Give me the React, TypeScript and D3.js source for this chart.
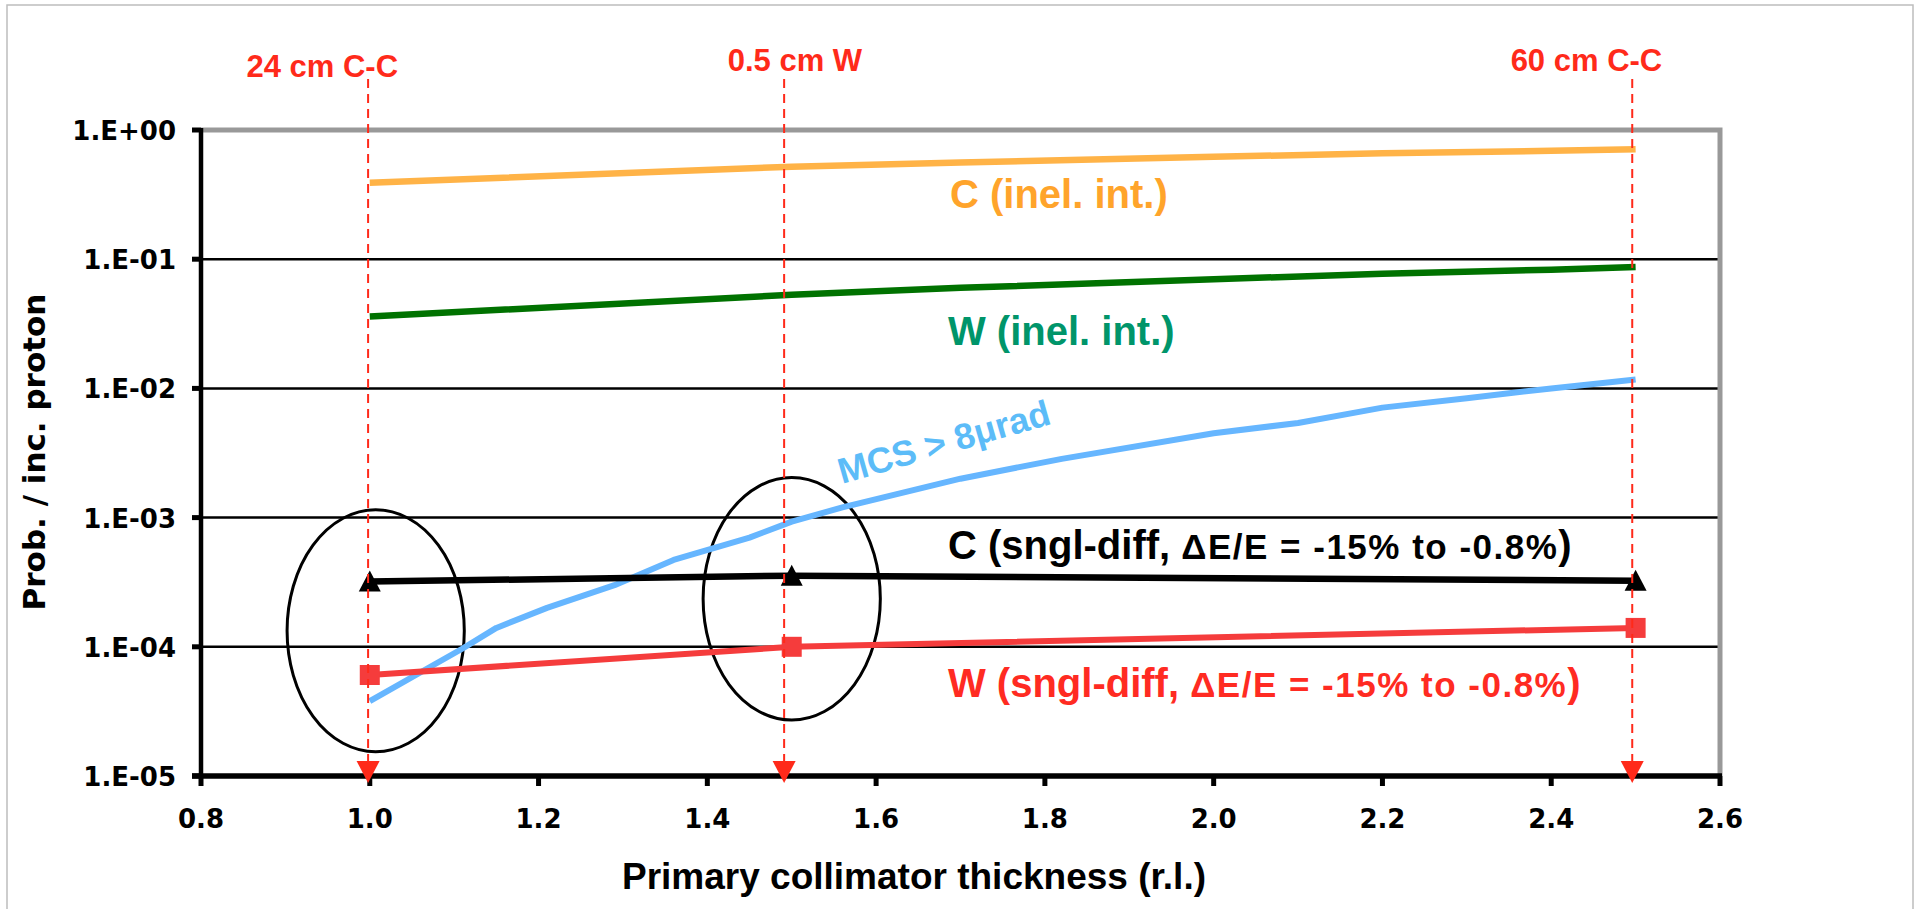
import React from 'react';
import * as d3 from 'd3';

// axis ticks
const xTicks = [0.8, 1.0, 1.2, 1.4, 1.6, 1.8, 2.0, 2.2, 2.4, 2.6];
const xTickLabels = ['0.8', '1.0', '1.2', '1.4', '1.6', '1.8', '2.0', '2.2', '2.4', '2.6'];
const yTicks = [1, 1e-1, 1e-2, 1e-3, 1e-4, 1e-5];
const yTickLabels = ['1.E+00', '1.E-01', '1.E-02', '1.E-03', '1.E-04', '1.E-05'];

// inelastic interaction probability (no markers)
const thicknessInel = [1.0, 1.5, 1.7, 2.0, 2.2, 2.4, 2.5];
const cInel = [0.39, 0.52, 0.56, 0.62, 0.66, 0.69, 0.71];
const wInel = [0.036, 0.053, 0.06, 0.07, 0.077, 0.083, 0.087];

// multiple coulomb scattering > 8 urad
const thicknessMcs = [1.0, 1.11, 1.15, 1.21, 1.29, 1.36, 1.45, 1.5, 1.56, 1.7, 1.82, 2.0, 2.1, 2.2, 2.3, 2.4, 2.5];
const mcs = [3.8e-5, 9.7e-5, 1.4e-4, 2.0e-4, 3.0e-4, 4.7e-4, 7.0e-4, 9.3e-4, 1.2e-3, 2.0e-3, 2.85e-3, 4.5e-3, 5.4e-3, 7.1e-3, 8.4e-3, 1.0e-2, 1.17e-2];

// single diffractive (with markers)
const thicknessSd = [1.0, 1.5, 2.5];
const cSd = [3.2e-4, 3.55e-4, 3.25e-4];
const wSd = [6.05e-5, 1.0e-4, 1.4e-4];

// collimator options marked with dashed arrows
const collimatorNames = ['24 cm C-C', '0.5 cm W', '60 cm C-C'];
const collimatorX = [0.998, 1.491, 2.496];

// circled regions: centre x, half width (r.l.), top and bottom (prob.)
const ringCx = [1.007, 1.5];
const ringRx = [0.105, 0.105];
const ringTop = [1.15e-3, 2.04e-3];
const ringBottom = [1.54e-5, 2.71e-5];

const W = 1915;
const H = 909;
const M = { left: 201, right: 1720, top: 130, bottom: 776 };

const arial = '"Liberation Sans", Arial, sans-serif';
const dejavu = '"DejaVu Sans", Verdana, sans-serif';
const annotRed = '#ff2a1a';

export default function App() {
  const x = d3.scaleLinear().domain([0.8, 2.6]).range([M.left, M.right]);
  const y = d3.scaleLog().domain([1e-5, 1]).range([M.bottom, M.top]);

  const line = d3.line<[number, number]>()
    .x(d => x(d[0]))
    .y(d => y(d[1]));
  const zip = (xs: number[], ys: number[]) => xs.map((v, i) => [v, ys[i]] as [number, number]);

  const series = [
    { pts: zip(thicknessInel, cInel), color: '#ffb347', w: 6.5 },
    { pts: zip(thicknessInel, wInel), color: '#007200', w: 6.5 },
    { pts: zip(thicknessMcs, mcs), color: '#66b6ff', w: 6 },
    { pts: zip(thicknessSd, wSd), color: '#f53c3c', w: 6 },
    { pts: zip(thicknessSd, cSd), color: '#000', w: 6.5 },
  ];

  const labelDx = [30, 78, 30];
  const labelY = [77, 71, 71];

  return (
    <svg width={W} height={H} style={{ position: 'fixed', left: 0, top: 0, background: '#fff' }}>
      <rect x={7} y={5} width={1906} height={940} fill="#fff" stroke="#bdbdbd" strokeWidth={1.5} />

      {/* grid lines */}
      {yTicks.slice(1, -1).map(t => (
        <line key={t} x1={M.left} x2={M.right} y1={y(t)} y2={y(t)} stroke="#000" strokeWidth={2.5} />
      ))}
      {/* top / right frame */}
      <path d={`M${M.left},${M.top}H${M.right}V${M.bottom}`} fill="none" stroke="#999" strokeWidth={5} />

      {/* axes */}
      <line x1={M.left} x2={M.left} y1={M.top - 2} y2={M.bottom} stroke="#000" strokeWidth={4.5} />
      <line x1={M.left - 9} x2={M.right + 2} y1={M.bottom} y2={M.bottom} stroke="#000" strokeWidth={5.5} />
      {yTicks.map((t, i) => (
        <g key={t}>
          <line x1={M.left - 9} x2={M.left} y1={y(t)} y2={y(t)} stroke="#000" strokeWidth={5} />
          <text x={176} y={y(t) + 10} textAnchor="end" fontFamily={dejavu} fontWeight="bold" fontSize={26}>
            {yTickLabels[i]}
          </text>
        </g>
      ))}
      {xTicks.map((t, i) => (
        <g key={t}>
          <line x1={x(t)} x2={x(t)} y1={M.bottom} y2={M.bottom + 10} stroke="#000" strokeWidth={5} />
          <text x={x(t)} y={828} textAnchor="middle" fontFamily={dejavu} fontWeight="bold" fontSize={26}>
            {xTickLabels[i]}
          </text>
        </g>
      ))}

      <text transform="translate(45,452) rotate(-90)" textAnchor="middle" fontFamily={dejavu} fontWeight="bold" fontSize={31}>
        Prob. / inc. proton
      </text>
      <text x={914} y={889} textAnchor="middle" fontFamily={arial} fontWeight="bold" fontSize={37}>
        Primary collimator thickness (r.l.)
      </text>

      {/* ellipses */}
      {ringCx.map((c, i) => (
        <ellipse key={i}
          cx={x(c)} cy={(y(ringTop[i]) + y(ringBottom[i])) / 2}
          rx={x(c + ringRx[i]) - x(c)} ry={(y(ringBottom[i]) - y(ringTop[i])) / 2}
          fill="none" stroke="#000" strokeWidth={3} />
      ))}

      {/* series */}
      {series.map((s, i) => (
        <path key={i} d={line(s.pts) || ''} fill="none" stroke={s.color} strokeWidth={s.w} strokeLinejoin="round" />
      ))}
      {thicknessSd.map((t, i) => (
        <rect key={'sq' + i} x={x(t) - 10} y={y(wSd[i]) - 10} width={20} height={20} fill="#f53c3c" />
      ))}
      {thicknessSd.map((t, i) => (
        <path key={'tr' + i} transform={`translate(${x(t)},${y(cSd[i])})`} d="M0,-11L11,10L-11,10Z" fill="#000" />
      ))}

      {/* series labels */}
      <text x={950} y={208} fontFamily={arial} fontWeight="bold" fontSize={40} fill="#ffa42b">C (inel. int.)</text>
      <text x={948} y={345} fontFamily={arial} fontWeight="bold" fontSize={40} fill="#00956a">W (inel. int.)</text>
      <text x={948} y={559} fontFamily={arial} fontWeight="bold" fontSize={40} fill="#000">
        C (sngl-diff, <tspan fontSize={35} letterSpacing={1.5}>ΔE/E = -15% to -0.8%</tspan>)
      </text>
      <text x={948} y={697} fontFamily={arial} fontWeight="bold" fontSize={40} fill="#ff2b22">
        W (sngl-diff, <tspan fontSize={35} letterSpacing={1.5}>ΔE/E = -15% to -0.8%</tspan>)
      </text>
      <text transform="translate(842,484) rotate(-16)" fontFamily={arial} fontWeight="bold" fontSize={36} fill="#5cbcf8">
        MCS &gt; 8μrad
      </text>

      {/* collimator markers */}
      {collimatorX.map((c, i) => (
        <g key={c}>
          <line x1={x(c)} x2={x(c)} y1={79} y2={762} stroke={annotRed} strokeWidth={2} strokeDasharray="9,6" />
          <path transform={`translate(${x(c)},${M.bottom + 7})`} d="M0,0L-11.5,-22L11.5,-22Z" fill={annotRed} />
          <text x={x(c) + labelDx[i]} y={labelY[i]} textAnchor="end" fontFamily={arial} fontWeight="bold" fontSize={31} fill={annotRed}>
            {collimatorNames[i]}
          </text>
        </g>
      ))}
    </svg>
  );
}
